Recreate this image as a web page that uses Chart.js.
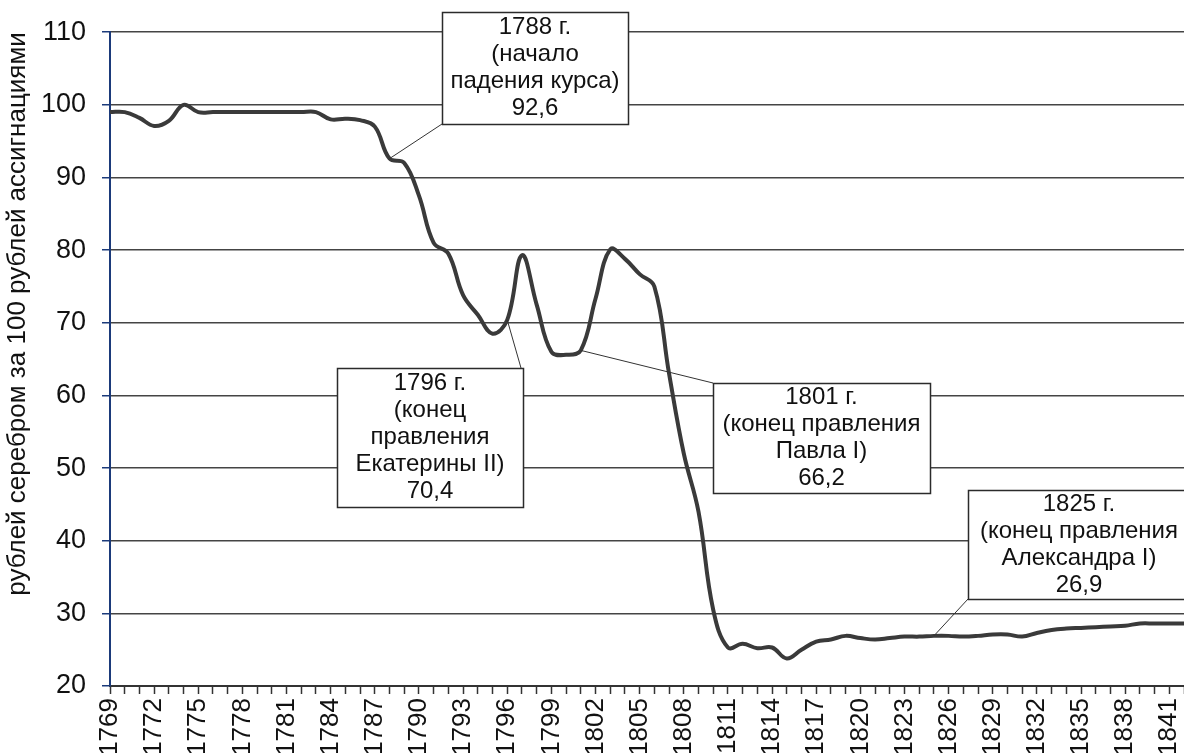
<!DOCTYPE html>
<html>
<head>
<meta charset="utf-8">
<script src="https://cdn.jsdelivr.net/npm/chart.js@4"></script>
<style>
    html, body { margin: 0; padding: 0; background: #fff; overflow: hidden; }
</style>
</head>
<body>
<canvas id="rateChart" width="1184" height="753"></canvas>
<script>
const years = [
    '1769', '1770', '1771', '1772', '1773', '1774', '1775', '1776', '1777', '1778',
    '1779', '1780', '1781', '1782', '1783', '1784', '1785', '1786', '1787', '1788',
    '1789', '1790', '1791', '1792', '1793', '1794', '1795', '1796', '1797', '1798',
    '1799', '1800', '1801', '1802', '1803', '1804', '1805', '1806', '1807', '1808',
    '1809', '1810', '1811', '1812', '1813', '1814', '1815', '1816', '1817', '1818',
    '1819', '1820', '1821', '1822', '1823', '1824', '1825', '1826', '1827', '1828',
    '1829', '1830', '1831', '1832', '1833', '1834', '1835', '1836', '1837', '1838',
    '1839', '1840', '1841', '1842'
];

// рублей серебром за 100 рублей ассигнациями
const rates = [
    99, 99, 98.2, 97.1, 97.8, 100, 99, 99, 99, 99,
    99, 99, 99, 99, 99, 98, 98.1, 97.9, 97, 92.6,
    92, 87.5, 81, 79.5, 73.8, 71.1, 68.5, 70.4, 79.3, 72.5,
    66, 65.6, 66.2, 73.3, 80.1, 78.8, 76.7, 75, 63, 52,
    44, 30.5, 25.3, 25.8, 25.2, 25.3, 23.8, 25, 26.1, 26.4,
    26.9, 26.6, 26.4, 26.6, 26.8, 26.8, 26.9, 26.9, 26.8, 26.9,
    27.1, 27.1, 26.8, 27.3, 27.7, 27.9, 28, 28.1, 28.2, 28.3,
    28.6, 28.6, 28.6, 28.6
];

const tickLabels = [
    '1769', '1772', '1775', '1778', '1781', '1784', '1787', '1790', '1793', '1796',
    '1799', '1802', '1805', '1808', '1811', '1814', '1817', '1820', '1823', '1826',
    '1829', '1832', '1835', '1838', '1841'
];

const noteYears = ['1788', '1796', '1801', '1825'];
const noteLines = [
    ['1788 г.', '(начало', 'падения курса)', '92,6'],
    ['1796 г.', '(конец', 'правления', 'Екатерины II)', '70,4'],
    ['1801 г.', '(конец правления', 'Павла I)', '66,2'],
    ['1825 г.', '(конец правления', 'Александра I)', '26,9']
];

// box placement (pixels) and the corner the leader line leaves from
const noteBoxes = [
    { x: 442, y: 12, w: 186, h: 112, ax: 442, ay: 124 },
    { x: 337, y: 368, w: 186, h: 139, ax: 521, ay: 368 },
    { x: 713, y: 383, w: 217, h: 110, ax: 713, ay: 383 },
    { x: 968, y: 490, w: 222, h: 109, ax: 968, ay: 599 }
];

const FONT = "'Liberation Sans', Arial, sans-serif";

const notesPlugin = {
    id: 'notes',
    afterDatasetsDraw(chart) {
        const ctx = chart.ctx;
        const xs = chart.scales.x;
        const ys = chart.scales.y;
        ctx.save();
        noteYears.forEach((yr, i) => {
            const idx = years.indexOf(yr);
            const px = xs.getPixelForValue(idx);
            const py = ys.getPixelForValue(rates[idx]);
            const b = noteBoxes[i];

            ctx.strokeStyle = '#333';
            ctx.lineWidth = 1;
            ctx.beginPath();
            ctx.moveTo(b.ax, b.ay);
            ctx.lineTo(px, py);
            ctx.stroke();

            ctx.fillStyle = '#fff';
            ctx.fillRect(b.x, b.y, b.w, b.h);
            ctx.lineWidth = 1.5;
            ctx.strokeStyle = '#2b2b2b';
            ctx.strokeRect(b.x + 0.5, b.y + 0.5, b.w, b.h);

            const lines = noteLines[i];
            const lh = 27;
            const first = b.y + (b.h - (lines.length - 1) * lh) / 2;
            ctx.fillStyle = '#111';
            ctx.font = '24px ' + FONT;
            ctx.textAlign = 'center';
            ctx.textBaseline = 'middle';
            lines.forEach((t, k) => {
                ctx.fillText(t, b.x + b.w / 2, first + k * lh);
            });
        });
        ctx.restore();
    }
};

const ctx = document.getElementById('rateChart').getContext('2d');

new Chart(ctx, {
    type: 'line',
    data: {
        labels: years,
        datasets: [{
            data: rates,
            borderColor: '#3a3a3a',
            borderWidth: 4,
            pointRadius: 0,
            tension: 0.4,
            fill: false
        }]
    },
    options: {
        responsive: false,
        animation: false,
        devicePixelRatio: 1,
        layout: {
            padding: { top: 28, right: 0, left: 0, bottom: 0 }
        },
        plugins: {
            legend: { display: false },
            tooltip: { enabled: false }
        },
        scales: {
            x: {
                afterFit(scale) {
                    scale.height = 67;
                    scale.paddingLeft = 0;
                    scale.paddingRight = 0;
                },
                border: {
                    color: '#333',
                    width: 2
                },
                grid: {
                    drawOnChartArea: false,
                    color: '#333',
                    tickLength: 8,
                    tickWidth: 1.5
                },
                ticks: {
                    autoSkip: false,
                    minRotation: 90,
                    maxRotation: 90,
                    padding: 4,
                    color: '#111',
                    font: { family: FONT, size: 26 },
                    callback: function(value, index) {
                        return tickLabels.includes(years[index]) ? years[index] : '';
                    }
                }
            },
            y: {
                min: 20,
                max: 110,
                afterFit(scale) {
                    scale.width = 110;
                },
                border: {
                    color: '#1b3a7a',
                    width: 2
                },
                grid: {
                    color: '#444',
                    lineWidth: 1.5,
                    tickColor: '#1b3a7a',
                    tickLength: 8
                },
                ticks: {
                    stepSize: 10,
                    padding: 16,
                    color: '#111',
                    font: { family: FONT, size: 27 }
                },
                title: {
                    display: true,
                    text: 'рублей серебром за 100 рублей ассигнациями',
                    align: 'end',
                    color: '#111',
                    font: { family: FONT, size: 26 },
                    padding: { top: 2, bottom: 0 }
                }
            }
        }
    },
    plugins: [notesPlugin]
});
</script>
</body>
</html>
